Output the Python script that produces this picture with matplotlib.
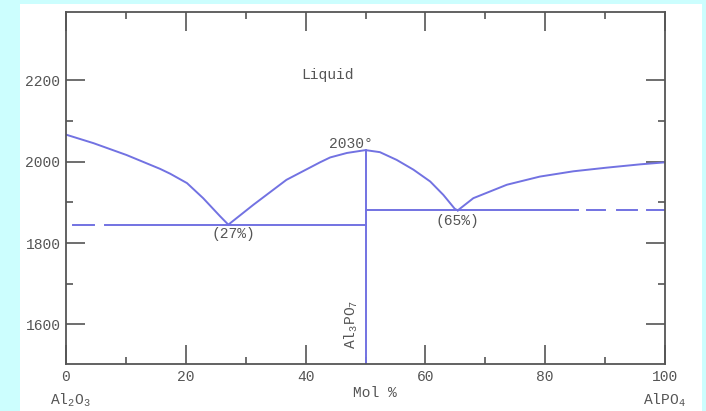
import matplotlib
matplotlib.use('Agg')
import matplotlib.pyplot as plt
from matplotlib.patches import Rectangle
from matplotlib.ticker import MultipleLocator

plt.rcParams['font.family'] = ['Liberation Mono', 'DejaVu Sans Mono']
plt.rcParams['mathtext.fontset'] = 'custom'
plt.rcParams['mathtext.rm'] = 'Liberation Mono'
plt.rcParams['mathtext.it'] = 'Liberation Mono'

# liquidus branches (mol % AlPO4, temperature)
left_x = [0, 4.6, 10.1, 15.7, 17.4, 20.2, 22.9, 25.7, 27.1]
left_y = [2066, 2045, 2016, 1982, 1970, 1947, 1910, 1866, 1845]
mid_x = [27.1, 31.3, 36.8, 42.4, 44.1, 46.9, 50, 52.4, 55.2, 58, 60.8, 63, 64.9, 65.4]
mid_y = [1845, 1894, 1955, 1998, 2010, 2021, 2028, 2023, 2004, 1980, 1951, 1918, 1884, 1880]
right_x = [65.4, 68, 73.6, 79.1, 84.7, 90.3, 95.8, 100]
right_y = [1880, 1910, 1943, 1963, 1976, 1985, 1993, 1998]

# eutectic lines
eut1_t = 1845
eut2_t = 1880
eut1_dash = [(1.1, 4.6)]
eut1_solid = (6.5, 50)
eut2_solid = (50, 85.5)
eut2_dash = [(87, 90), (92, 95.3), (97, 100)]
compound_x = 50
compound_top = 2028

xticks = [0, 20, 40, 60, 80, 100]
yticks = [1600, 1800, 2000, 2200]

col = '#7272e2'
txt = '#555555'
lw = 1.4

fig = plt.figure(figsize=(7.06, 4.11), dpi=100)
fig.patch.set_facecolor('#ccfefe')
fig.patches.append(Rectangle((20 / 706, 0), 682 / 706, 407 / 411,
                             transform=fig.transFigure, facecolor='white',
                             edgecolor='none', zorder=-5))
ax = fig.add_axes([66 / 706, 47 / 411, 599 / 706, 352 / 411])
ax.set_zorder(2)
ax.set_facecolor('white')

ax.plot(left_x, left_y, color=col, lw=lw)
ax.plot(mid_x, mid_y, color=col, lw=lw)
ax.plot(right_x, right_y, color=col, lw=lw)

for a, b in eut1_dash:
    ax.plot([a, b], [eut1_t, eut1_t], color=col, lw=lw)
ax.plot(eut1_solid, [eut1_t, eut1_t], color=col, lw=lw)
ax.plot(eut2_solid, [eut2_t, eut2_t], color=col, lw=lw)
for a, b in eut2_dash:
    ax.plot([a, b], [eut2_t, eut2_t], color=col, lw=lw)
ax.plot([compound_x, compound_x], [1400, compound_top], color=col, lw=lw)

ax.set_xlim(0, 100)
ax.set_ylim(1503, 2367)
ax.set_xticks(xticks)
ax.set_yticks(yticks)
ax.xaxis.set_minor_locator(MultipleLocator(10))
ax.set_yticks([1700, 1900, 2100], minor=True)
ax.tick_params(which='both', direction='in', top=True, right=True,
               color='#555555', width=1.2, labelsize=10.5, labelcolor=txt)
ax.tick_params(which='major', length=13.5, pad=4)
ax.tick_params(which='minor', length=5)
for s in ax.spines.values():
    s.set_color('#555555')
    s.set_linewidth(1.3)

ax.text(43.7, 2213, 'Liquid', ha='center', va='center', fontsize=10.5, color=txt)
ax.text(47.5, 2044, '2030°', ha='center', va='center', fontsize=10.5, color=txt)
ax.text(27.9, 1822, '(27%)', ha='center', va='center', fontsize=10.5, color=txt)
ax.text(65.4, 1853, '(65%)', ha='center', va='center', fontsize=10.5, color=txt)
ax.text(47.7, 1600, r'Al$_3$PO$_7$', ha='center', va='center', rotation=90,
        fontsize=10.5, color=txt)

fig.text(70 / 706, 1 - 400 / 411, r'Al$_2$O$_3$', ha='center', va='center',
         fontsize=10.5, color=txt)
fig.text(375 / 706, 1 - 393 / 411, 'Mol %', ha='center', va='center',
         fontsize=10.5, color=txt)
fig.text(664 / 706, 1 - 400 / 411, r'AlPO$_4$', ha='center', va='center',
         fontsize=10.5, color=txt)

fig.savefig('out.png', dpi=100, facecolor=fig.get_facecolor())
